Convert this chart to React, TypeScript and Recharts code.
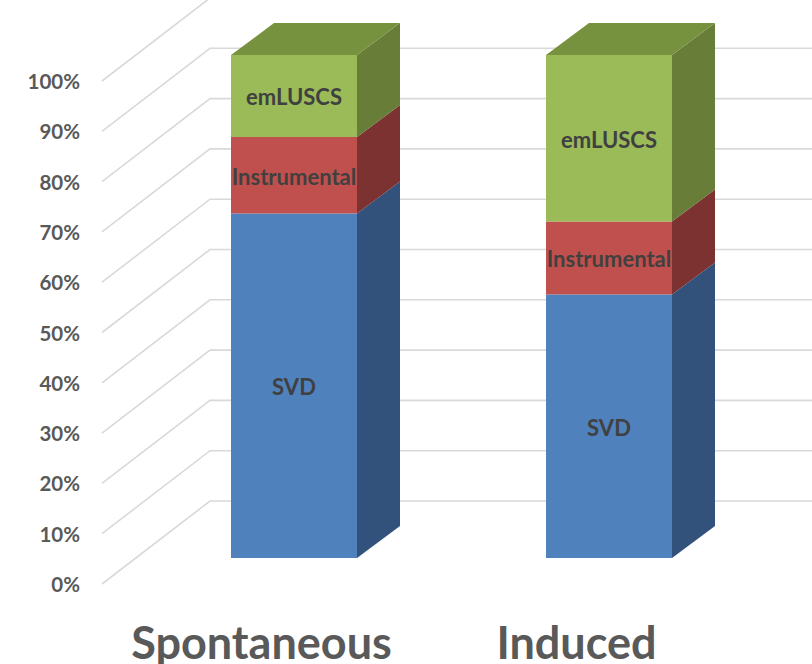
import React from 'react';
import { BarChart, Bar, XAxis, YAxis, CartesianGrid, LabelList } from 'recharts';

const categories = ['Spontaneous', 'Induced'];
const svdValues = [68.5, 52.4];
const instrumentalValues = [15.2, 14.5];
const emluscsValues = [16.3, 33.1];
const yTicks = [0, 10, 20, 30, 40, 50, 60, 70, 80, 90, 100];

const data = categories.map((c, i) => ({
  name: c,
  SVD: svdValues[i],
  Instrumental: instrumentalValues[i],
  emLUSCS: emluscsValues[i],
}));

const DX = 43;
const DY = 32;

const makeShape = (front: string, side: string, top: string | null) => (props: any) => {
  const { x, y, width, height } = props;
  if (width == null || height == null) return null;
  return (
    <g>
      <rect x={x} y={y} width={width} height={height} fill={front} />
      <polygon
        points={`${x + width},${y} ${x + width + DX},${y - DY} ${x + width + DX},${y + height - DY} ${x + width},${y + height}`}
        fill={side}
      />
      {top && (
        <polygon
          points={`${x},${y} ${x + DX},${y - DY} ${x + width + DX},${y - DY} ${x + width},${y}`}
          fill={top}
        />
      )}
    </g>
  );
};

const makeLabel = (text: string) => (props: any) => {
  const vb = props.viewBox || {};
  const x = props.x ?? vb.x;
  const y = props.y ?? vb.y;
  const w = props.width ?? vb.width;
  const h = props.height ?? vb.height;
  return (
    <text
      x={x + w / 2}
      y={y + h / 2 + 1}
      textAnchor="middle"
      dominantBaseline="central"
      fontFamily="Lato, sans-serif"
      fontWeight={700}
      fontSize={22}
      fill="#404040"
    >
      {text}
    </text>
  );
};

const YTick = (props: any) => {
  const { y, payload } = props;
  return (
    <text
      x={80}
      y={y + 26}
      textAnchor="end"
      dominantBaseline="central"
      fontFamily="Lato, sans-serif"
      fontWeight={700}
      fontSize={20.5}
      fill="#595959"
    >
      {`${payload.value}%`}
    </text>
  );
};

const XTick = (props: any) => {
  const { x, payload } = props;
  return (
    <text
      x={x - 32}
      y={659}
      textAnchor="middle"
      fontFamily="Lato, sans-serif"
      fontWeight={700}
      fontSize={45}
      fill="#595959"
    >
      {payload.value}
    </text>
  );
};

const gridLine = (props: any) => {
  const { y1, index } = props;
  const y = y1;
  return (
    <path
      key={`g-${index}-${y}`}
      d={`M102,${y + 26} L210,${y - 57} L812,${y - 57}`}
      stroke="#D9D9D9"
      strokeWidth={1.6}
      fill="none"
    />
  );
};

export default function App() {
  return (
    <div style={{ position: 'absolute', left: 0, top: 0, width: 812, height: 664, background: '#fff' }}>
      <BarChart
        width={812}
        height={664}
        data={data}
        margin={{ top: 55, right: 46, left: 0, bottom: 0 }}
        barSize={126}
      >
        <CartesianGrid vertical={false} horizontal={gridLine} />
        <XAxis dataKey="name" height={106} axisLine={false} tickLine={false} tick={<XTick />} interval={0} />
        <YAxis
          width={136}
          domain={[0, 100]}
          ticks={yTicks}
          axisLine={false}
          tickLine={false}
          tick={<YTick />}
          interval={0}
        />
        <Bar dataKey="SVD" stackId="a" isAnimationActive={false} shape={makeShape('#4F81BD', '#32527C', null)}>
          <LabelList dataKey="SVD" content={makeLabel('SVD')} />
        </Bar>
        <Bar dataKey="Instrumental" stackId="a" isAnimationActive={false} shape={makeShape('#C0504D', '#7B3230', null)}>
          <LabelList dataKey="Instrumental" content={makeLabel('Instrumental')} />
        </Bar>
        <Bar dataKey="emLUSCS" stackId="a" isAnimationActive={false} shape={makeShape('#9BBB59', '#677D38', '#77923F')}>
          <LabelList dataKey="emLUSCS" content={makeLabel('emLUSCS')} />
        </Bar>
      </BarChart>
    </div>
  );
}
